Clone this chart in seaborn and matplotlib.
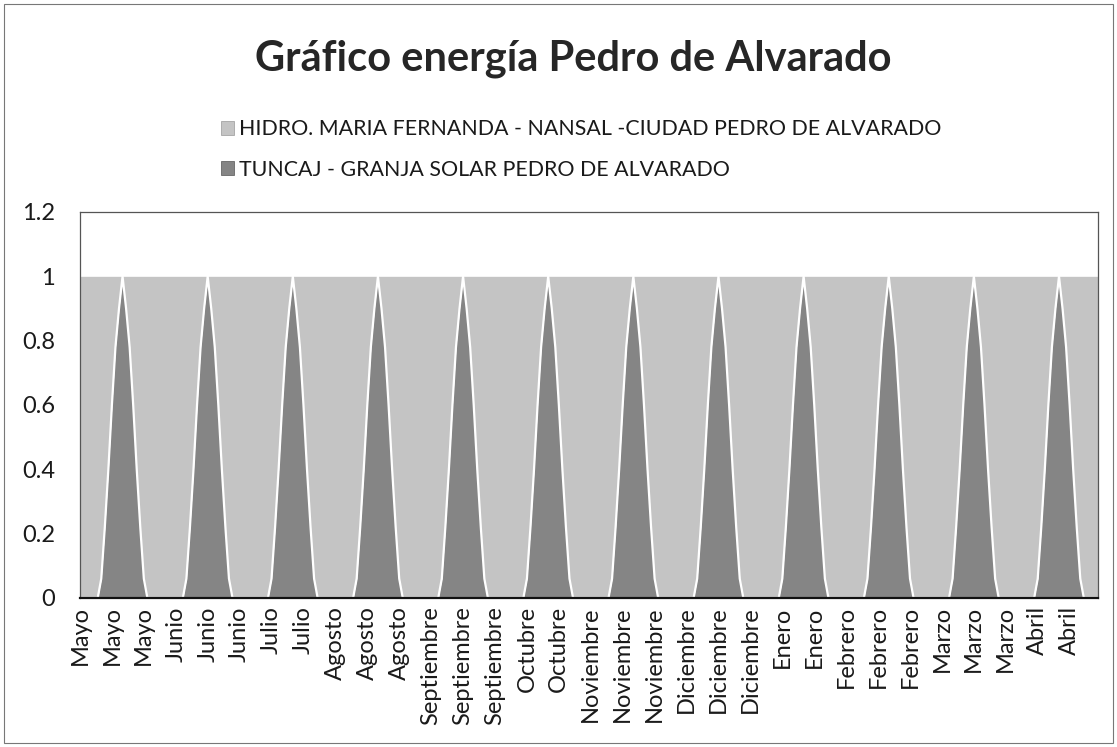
import numpy as np
import pandas as pd
import seaborn as sns
import matplotlib.pyplot as plt
from matplotlib.patches import Patch, Rectangle
from matplotlib.ticker import FuncFormatter

sns.set_theme(style="white")
plt.rcParams['font.family'] = ['Lato', 'DejaVu Sans']

# datos
meses = ["Mayo", "Junio", "Julio", "Agosto", "Septiembre", "Octubre",
         "Noviembre", "Diciembre", "Enero", "Febrero", "Marzo", "Abril"]

# perfil horario (0-23 h), igual en todos los meses
perfil_solar = [0, 0, 0, 0, 0, 0, 0.06, 0.22, 0.40, 0.60, 0.78, 0.90,
                1.00, 0.90, 0.78, 0.60, 0.40, 0.22, 0.06, 0, 0, 0, 0, 0]
perfil_hidro = [1, 1, 1, 1, 1, 1, 0.94, 0.78, 0.60, 0.40, 0.22, 0.10,
                0.00, 0.10, 0.22, 0.40, 0.60, 0.78, 0.94, 1, 1, 1, 1, 1]

serie_hidro = "HIDRO. MARIA FERNANDA - NANSAL -CIUDAD PEDRO DE ALVARADO"
serie_solar = "TUNCAJ - GRANJA SOLAR PEDRO DE ALVARADO"
y_ticks = [0, 0.2, 0.4, 0.6, 0.8, 1, 1.2]

df = pd.DataFrame({
    "hora": np.arange(len(meses) * 24),
    "mes": np.repeat(meses, 24),
    "solar": np.tile(perfil_solar, len(meses)),
    "hidro": np.tile(perfil_hidro, len(meses)),
})
df["total"] = df["solar"] + df["hidro"]

c_hidro = "#c4c4c4"
c_solar = "#858585"

fig = plt.figure(figsize=(11.17, 7.47), dpi=100)
ax = fig.add_axes([0.0716, 0.1995, 0.9114, 0.5167])

# areas apiladas
ax.fill_between(df["hora"], 0, df["solar"], color=c_solar, lw=0)
ax.fill_between(df["hora"], df["solar"], df["total"], color=c_hidro, lw=0)
sns.lineplot(data=df, x="hora", y="solar", color="white", lw=1.6, ax=ax)

ax.set_xlim(df["hora"].min(), df["hora"].max())
ax.set_ylim(0, 1.2)
ax.set_yticks(y_ticks)
ax.yaxis.set_major_formatter(FuncFormatter(lambda v, p: f"{v:g}"))
etiquetas = df.iloc[::9]
ax.set_xticks(etiquetas["hora"])
ax.set_xticklabels(etiquetas["mes"], rotation=90)
ax.set_xlabel("")
ax.set_ylabel("")
ax.tick_params(axis="both", length=0, labelsize=17, colors="#1a1a1a")
ax.tick_params(axis="y", pad=18)
ax.tick_params(axis="x", pad=6)

for s in ["top", "left", "right"]:
    ax.spines[s].set_color("#555555")
    ax.spines[s].set_linewidth(0.9)
ax.spines["bottom"].set_color("#111111")
ax.spines["bottom"].set_linewidth(1.6)

fig.text(0.513, 0.922, "Gráfico energía Pedro de Alvarado", ha="center",
         va="center", fontsize=30, fontweight="bold", color="#262626")

handles = [Patch(facecolor=c_hidro, edgecolor="#999999", lw=0.5),
           Patch(facecolor=c_solar, edgecolor="#555555", lw=0.5)]
fig.legend(handles, [serie_hidro, serie_solar], loc="upper left",
           bbox_to_anchor=(0.181, 0.866), frameon=False, fontsize=15.4,
           handlelength=0.6, handleheight=0.6, handletextpad=0.2,
           labelspacing=0.95, labelcolor="#1a1a1a")

fig.patches.append(Rectangle((0.004, 0.006), 0.992, 0.988,
                             transform=fig.transFigure, fill=False,
                             edgecolor="#777777", lw=0.8))

fig.savefig("out.png", dpi=100)
